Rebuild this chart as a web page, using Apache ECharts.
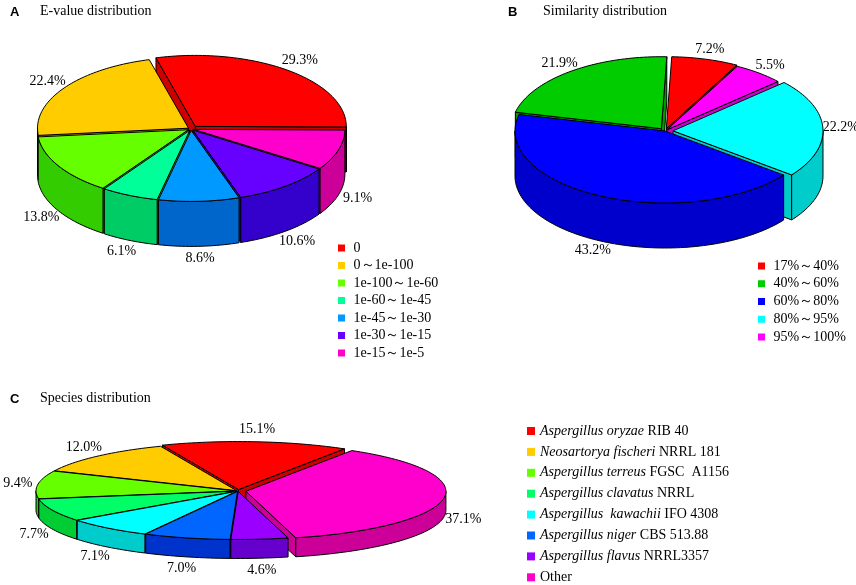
<!DOCTYPE html>
<html><head><meta charset="utf-8">
<script src="https://cdn.jsdelivr.net/npm/echarts@6/dist/echarts.min.js"></script>
<style>html,body{margin:0;padding:0;background:#fff}#c{width:856px;height:585px}</style>
</head><body><div id="c"></div><script>
// ---- data ----
const evalueCategories = ['0', '0～1e-100', '1e-100～1e-60', '1e-60～1e-45', '1e-45～1e-30', '1e-30～1e-15', '1e-15～1e-5'];
const evalueValues = [29.3, 22.4, 13.8, 6.1, 8.6, 10.6, 9.1];
const similarityCategories = ['17%～40%', '40%～60%', '60%～80%', '80%～95%', '95%～100%'];
const similarityValues = [7.2, 21.9, 43.2, 22.2, 5.5];
const speciesGenus = ['Aspergillus oryzae', 'Neosartorya fischeri', 'Aspergillus terreus', 'Aspergillus clavatus', 'Aspergillus  kawachii', 'Aspergillus niger', 'Aspergillus flavus', ''];
const speciesStrain = ['RIB 40', 'NRRL 181', 'FGSC  A1156', 'NRRL', 'IFO 4308', 'CBS 513.88', 'NRRL3357', 'Other'];
const speciesValues = [15.1, 12.0, 9.4, 7.7, 7.1, 7.0, 4.6, 37.1];
const speciesCategories = speciesGenus.map((g, i) => g ? g + ' ' + speciesStrain[i] : speciesStrain[i]);

// ---- styles ----
const evalueTop = ['#ff0000', '#ffcc00', '#66ff00', '#00ff99', '#0099ff', '#6600ff', '#ff00cc'];
const evalueSide = ['#cc0000', '#cc9900', '#33cc00', '#00cc66', '#0066cc', '#3300cc', '#cc0099'];
const simTop = ['#ff0000', '#00cc00', '#0000ff', '#00ffff', '#ff00ff'];
const simSide = ['#cc0000', '#009900', '#0000cc', '#00cccc', '#cc00cc'];
const spTop = ['#ff0000', '#ffcc00', '#66ff00', '#00ff66', '#00ffff', '#0066ff', '#9900ff', '#ff00cc'];
const spSide = ['#cc0000', '#cc9900', '#33cc00', '#00cc33', '#00cccc', '#0033cc', '#6600cc', '#cc0099'];
const SERIF = '"Liberation Serif", "Times New Roman", serif';
const SANS = '"Liberation Sans", Arial, sans-serif';

function pie3d(cfg) {
  const total = cfg.values.reduce((a, b) => a + b, 0);
  let acc = 0;
  const geo = cfg.values.map(v => {
    const t0 = cfg.startAngle + acc / total * 360;
    acc += v;
    const t1 = cfg.startAngle + acc / total * 360;
    return { t0, t1, m: (t0 + t1) / 2 };
  });
  const R = Math.PI / 180;
  return {
    type: 'custom', name: cfg.name, coordinateSystem: 'none', silent: true,
    data: cfg.values.map((v, i) => ({ name: cfg.categories[i], value: [v, i] })),
    renderItem(params, api) {
      const i = params.dataIndex, g = geo[i];
      const e = cfg.explode[i];
      const mr = g.m * R;
      const ox = cfg.cx + e * Math.cos(mr);
      const oy = cfg.cy - e * Math.sin(mr) * cfg.ry / cfg.rx;
      const d = cfg.depth;
      const pt = (t, dy) => [ox + cfg.rx * Math.cos(t * R), oy - cfg.ry * Math.sin(t * R) + dy];
      const arc = (a, b, dy) => {
        const n = Math.max(2, Math.ceil(Math.abs(b - a) / 1.5));
        const out = [];
        for (let k = 0; k <= n; k++) out.push(pt(a + (b - a) * k / n, dy));
        return out;
      };
      const st = fill => ({ fill, stroke: '#000', lineWidth: 1, lineJoin: 'round' });
      const base = 100 + Math.round((1 - Math.sin(mr)) * 100);
      const children = [];
      const radial = t => ({ type: 'polygon', z2: base, shape: { points: [[ox, oy], pt(t, 0), pt(t, d), [ox, oy + d]] }, style: st(cfg.sides[i]) });
      if (Math.cos(g.t0 * R) > 1e-6) children.push(radial(g.t0));
      if (Math.cos(g.t1 * R) < -1e-6) children.push(radial(g.t1));
      for (let k = -1; k <= 1; k++) {
        const lo = Math.max(g.t0, 180 + 360 * k), hi = Math.min(g.t1, 360 + 360 * k);
        if (hi > lo) children.push({ type: 'polygon', z2: base + 1, shape: { points: arc(lo, hi, 0).concat(arc(hi, lo, d)) }, style: st(cfg.sides[i]) });
      }
      children.push({ type: 'polygon', z2: 1000, shape: { points: [[ox, oy]].concat(arc(g.t0, g.t1, 0)) }, style: st(cfg.colors[i]) });
      const c = Math.cos(mr), s = Math.sin(mr);
      const lx = ox + (cfg.rx + cfg.padX) * c;
      const ly = oy - (cfg.ry + cfg.padY) * s + (s < 0 ? d : 0);
      children.push({ type: 'text', z2: 2000, x: lx, y: ly, style: { text: cfg.values[i].toFixed(1) + '%', font: '14px ' + SERIF, fill: '#000', align: 'center', verticalAlign: 'middle' } });
      return { type: 'group', children };
    }
  };
}

function legendPie(name, cats, vals, colors) {
  return {
    type: 'pie', name, radius: [0, 0], center: [-100, -100], silent: true,
    label: { show: false }, labelLine: { show: false },
    data: cats.map((n, i) => ({ name: n, value: vals[i], itemStyle: { color: colors[i] } }))
  };
}

const chart = echarts.init(document.getElementById('c'));
chart.setOption({
  animation: false,
  backgroundColor: '#fff',
  graphic: [
    { type: 'text', left: 10, top: 6, style: { text: 'A', font: 'bold 13px ' + SANS, fill: '#000' } },
    { type: 'text', left: 40, top: 4, style: { text: 'E-value distribution', font: '14px ' + SERIF, fill: '#000' } },
    { type: 'text', left: 508, top: 6, style: { text: 'B', font: 'bold 13px ' + SANS, fill: '#000' } },
    { type: 'text', left: 543, top: 4, style: { text: 'Similarity distribution', font: '14px ' + SERIF, fill: '#000' } },
    { type: 'text', left: 10, top: 393, style: { text: 'C', font: 'bold 13px ' + SANS, fill: '#000' } },
    { type: 'text', left: 40, top: 391, style: { text: 'Species distribution', font: '14px ' + SERIF, fill: '#000' } }
  ],
  legend: [
    {
      data: evalueCategories, orient: 'vertical', left: 338, top: 241, padding: 0, itemWidth: 7, itemHeight: 7, itemGap: 3.5,
      icon: 'rect', selectedMode: false, formatter: n => ' ' + n,
      textStyle: { fontFamily: SERIF, fontSize: 14, lineHeight: 14, color: '#000' }
    },
    {
      data: similarityCategories, orient: 'vertical', left: 758, top: 259, padding: 0, itemWidth: 7, itemHeight: 7, itemGap: 3.75,
      icon: 'rect', selectedMode: false, formatter: n => ' ' + n,
      textStyle: { fontFamily: SERIF, fontSize: 14, lineHeight: 14, color: '#000' }
    },
    {
      data: speciesCategories, orient: 'vertical', left: 527, top: 424, padding: 0, height: 170, itemWidth: 8, itemHeight: 8, itemGap: 6.9,
      icon: 'rect', selectedMode: false,
      formatter: n => {
        const i = speciesCategories.indexOf(n);
        return speciesGenus[i] ? '{i|' + speciesGenus[i] + '} {n|' + speciesStrain[i] + '}' : '{n|' + speciesStrain[i] + '}';
      },
      textStyle: {
        fontFamily: SERIF, fontSize: 14, lineHeight: 14, color: '#000',
        rich: {
          i: { fontFamily: SERIF, fontSize: 14, fontStyle: 'italic', color: '#000', lineHeight: 14 },
          n: { fontFamily: SERIF, fontSize: 14, color: '#000', lineHeight: 14 }
        }
      }
    }
  ],
  series: [
    pie3d({ name: 'E-value', categories: evalueCategories, values: evalueValues, colors: evalueTop, sides: evalueSide,
      cx: 191, cy: 129, rx: 151, ry: 71, depth: 45, startAngle: -0.5, explode: [7, 3, 3, 3, 3, 3, 3], padX: 20, padY: 12 }),
    pie3d({ name: 'Similarity', categories: similarityCategories, values: similarityValues, colors: simTop, sides: simSide,
      cx: 665, cy: 131, rx: 150, ry: 72, depth: 45, startAngle: 62, explode: [5, 6, 0, 8, 3], padX: 18, padY: 10 }),
    pie3d({ name: 'Species', categories: speciesCategories, values: speciesValues, colors: spTop, sides: spSide,
      cx: 238, cy: 491, rx: 200, ry: 48, depth: 19, startAngle: 58, explode: [6, 2, 2, 2, 2, 2, 2, 8], padX: 20, padY: 12 }),
    legendPie('legendA', evalueCategories, evalueValues, evalueTop),
    legendPie('legendB', similarityCategories, similarityValues, simTop),
    legendPie('legendC', speciesCategories, speciesValues, spTop)
  ]
});
</script></body></html>
